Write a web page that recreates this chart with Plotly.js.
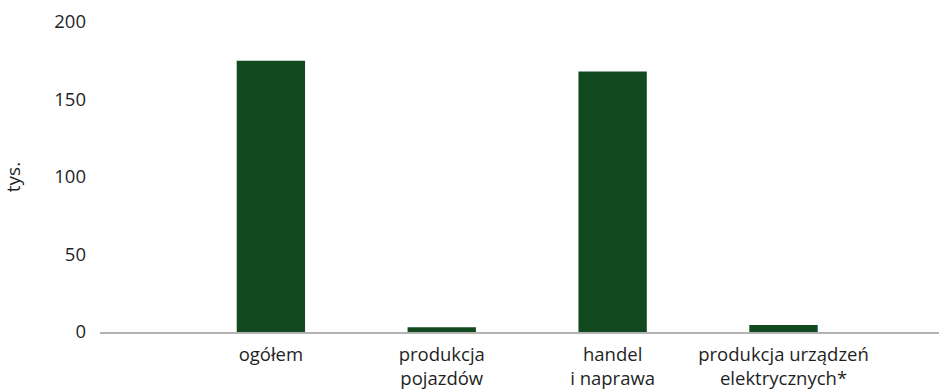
<!DOCTYPE html>
<html>
<head>
<meta charset="utf-8">
<script src="https://cdn.plot.ly/plotly-3.0.1.min.js"></script>
<style>
  html, body { margin: 0; padding: 0; background: #ffffff; }
  #chart { width: 939px; height: 389px; }
</style>
</head>
<body>
<div id="chart"></div>
<script>
// Employment by sector, thousands
const categories = [
  'ogółem',
  'produkcja<br>pojazdów',
  'handel<br>i naprawa',
  'produkcja urządzeń<br>elektrycznych*'
];
const values = [175, 3, 168, 4.5];
const yTicks = [0, 50, 100, 150, 200];

const barColor = '#114a1e';
const fontFamily = '"Open Sans", "Noto Sans", sans-serif';
const textColor = '#1f1f1f';

const trace = {
  type: 'bar',
  x: categories,
  y: values,
  marker: { color: barColor },
  hoverinfo: 'skip'
};

const layout = {
  width: 939,
  height: 389,
  margin: { l: 100, r: 0, t: 22, b: 57, pad: 0 },
  paper_bgcolor: '#ffffff',
  plot_bgcolor: '#ffffff',
  bargap: 0.6,
  showlegend: false,
  font: { family: fontFamily, size: 18, color: textColor },
  xaxis: {
    type: 'category',
    range: [-1, 3.91],
    showgrid: false,
    zeroline: false,
    showline: true,
    linecolor: '#b3b3b3',
    linewidth: 1.5,
    ticks: '',
    ticklabelstandoff: 5,
    tickfont: { family: fontFamily, size: 18.5, color: textColor },
    fixedrange: true
  },
  yaxis: {
    range: [0, 200],
    tickvals: yTicks,
    ticktext: yTicks.map(String),
    showgrid: false,
    zeroline: false,
    showline: false,
    ticks: '',
    ticklabelstandoff: 13,
    tickfont: { family: fontFamily, size: 18.5, color: textColor },
    title: { text: 'tys.', font: { family: fontFamily, size: 19, color: textColor }, standoff: 28 },
    fixedrange: true
  }
};

Plotly.newPlot('chart', [trace], layout, { displayModeBar: false, staticPlot: true });
</script>
</body>
</html>
